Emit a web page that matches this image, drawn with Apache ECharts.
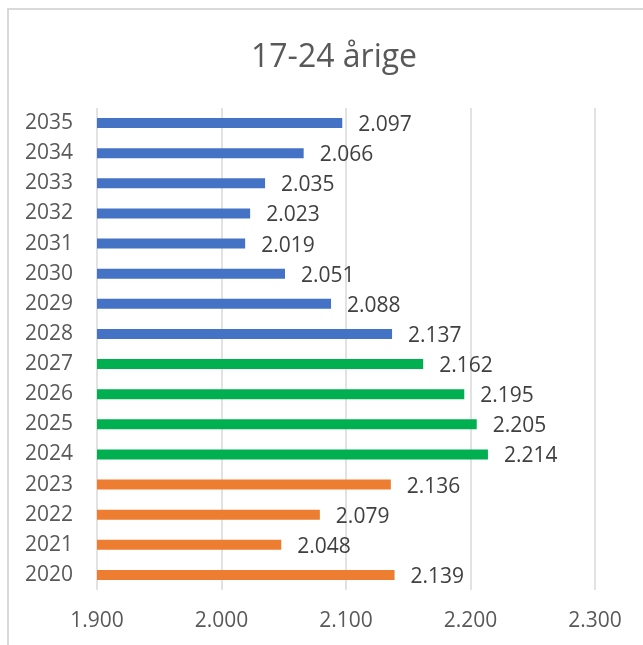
<!DOCTYPE html>
<html>
<head>
<meta charset="utf-8">
<script src="https://cdn.jsdelivr.net/npm/echarts@6/dist/echarts.min.js"></script>
<style>
  html, body { margin: 0; padding: 0; background: #fff; }
  #main { width: 643px; height: 645px; }
</style>
</head>
<body>
<div id="main"></div>
<script>
var years = ['2020','2021','2022','2023','2024','2025','2026','2027','2028','2029','2030','2031','2032','2033','2034','2035'];
var values = [2139, 2048, 2079, 2136, 2214, 2205, 2195, 2162, 2137, 2088, 2051, 2019, 2023, 2035, 2066, 2097];
// farve pr. periode: faktisk (orange), kendt (grøn), prognose (blå)
var barColors = ['#ED7D31','#ED7D31','#ED7D31','#ED7D31','#00B050','#00B050','#00B050','#00B050',
                 '#4472C4','#4472C4','#4472C4','#4472C4','#4472C4','#4472C4','#4472C4','#4472C4'];
var xTicks = [1900, 2000, 2100, 2200, 2300];

function fmt(v) {
    // dansk tusindtalsseparator
    var s = String(Math.round(v));
    return s.replace(/\B(?=(\d{3})+(?!\d))/g, '.');
}

var myChart = echarts.init(document.getElementById('main'));
var font = 'Open Sans';
var option = {
    animation: false,
    title: {
        text: '17-24 årige',
        left: 246,
        top: 37,
        textStyle: { fontFamily: font, fontSize: 32, fontWeight: 'normal', color: '#595959' }
    },
    graphic: [{
        type: 'rect',
        shape: { x: 8, y: 9, width: 700, height: 700 },
        style: { fill: 'none', stroke: '#d9d9d9', lineWidth: 2 },
        silent: true
    }],
    grid: { left: 97, right: 48, top: 108, bottom: 55 },
    xAxis: {
        type: 'value',
        min: xTicks[0],
        max: xTicks[xTicks.length - 1],
        interval: 100,
        axisLine: { show: false },
        axisTick: { show: false },
        splitLine: { show: true, lineStyle: { color: '#d9d9d9', width: 1.5 } },
        axisLabel: {
            margin: 21,
            fontFamily: font, fontSize: 21, color: '#595959',
            formatter: function (v) { return fmt(v); }
        }
    },
    yAxis: {
        type: 'category',
        data: years,
        axisLine: { show: false },
        axisTick: { show: false },
        axisLabel: { margin: 24, fontFamily: font, fontSize: 21, color: '#595959' }
    },
    series: [{
        type: 'bar',
        barWidth: 10,
        data: values.map(function (v, i) {
            return { value: v, itemStyle: { color: barColors[i] } };
        }),
        label: {
            show: true,
            position: 'right',
            distance: 16,
            offset: [0, 2],
            fontFamily: font, fontSize: 21, color: '#404040',
            formatter: function (p) { return fmt(p.value); }
        }
    }]
};
myChart.setOption(option);
</script>
</body>
</html>
